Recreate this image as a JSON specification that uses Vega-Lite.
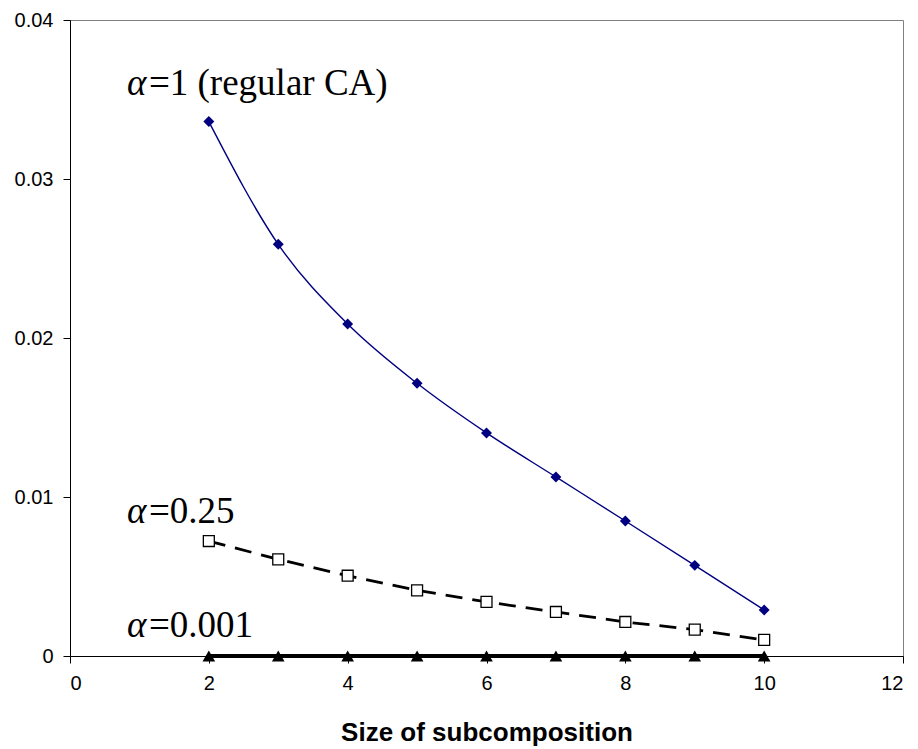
{
  "$schema": "https://vega.github.io/schema/vega-lite/v6.json",
  "width": 833,
  "height": 636,
  "autosize": {"type": "none"},
  "padding": {"left": 70, "top": 20, "right": 15, "bottom": 93},
  "background": "white",
  "config": {
    "view": {"stroke": "#808080", "strokeWidth": 1},
    "axis": {"grid": false, "domainColor": "black", "tickColor": "black", "tickSize": 7, "zindex": 0}
  },
  "datasets": {
    "a1": [
      {"size": 2, "value": 0.03361},
      {"size": 3, "value": 0.02589},
      {"size": 4, "value": 0.02088},
      {"size": 5, "value": 0.01715},
      {"size": 6, "value": 0.01403},
      {"size": 7, "value": 0.01126},
      {"size": 8, "value": 0.00849},
      {"size": 9, "value": 0.00570},
      {"size": 10, "value": 0.00289}
    ],
    "a025": [
      {"size": 2, "value": 0.00723},
      {"size": 3, "value": 0.00608},
      {"size": 4, "value": 0.00505},
      {"size": 5, "value": 0.00413},
      {"size": 6, "value": 0.00340},
      {"size": 7, "value": 0.00277},
      {"size": 8, "value": 0.00214},
      {"size": 9, "value": 0.00166},
      {"size": 10, "value": 0.00101}
    ],
    "a0001": [
      {"size": 2, "value": 0.0},
      {"size": 3, "value": 0.0},
      {"size": 4, "value": 0.0},
      {"size": 5, "value": 0.0},
      {"size": 6, "value": 0.0},
      {"size": 7, "value": 0.0},
      {"size": 8, "value": 0.0},
      {"size": 9, "value": 0.0},
      {"size": 10, "value": 0.0}
    ],
    "labels": [
      {"x": 0.82, "y": 0.03528, "alpha": "α", "rest": "=1 (regular CA)"},
      {"x": 0.82, "y": 0.00838, "alpha": "α", "rest": "=0.25"},
      {"x": 0.82, "y": 0.00121, "alpha": "α", "rest": "=0.001"}
    ]
  },
  "encoding": {
    "x": {
      "field": "size", "type": "quantitative",
      "scale": {"domain": [0, 12], "nice": false, "zero": true},
      "axis": {"values": [0, 2, 4, 6, 8, 10, 12], "title": "Size of subcomposition", "titleFont": "Liberation Sans", "titleFontSize": 26, "titleFontWeight": "bold", "titleColor": "black", "titlePadding": 26, "labelFont": "Liberation Sans", "labelFontSize": 20, "labelColor": "black", "labelPadding": 10}
    },
    "y": {
      "field": "value", "type": "quantitative",
      "scale": {"domain": [0, 0.04], "nice": false},
      "axis": {"values": [0, 0.01, 0.02, 0.03, 0.04], "title": null, "labelExpr": "datum.value == 0 ? '0' : format(datum.value, '.2f')", "labelFont": "Liberation Sans", "labelFontSize": 20, "labelColor": "black", "labelPadding": 10}
    }
  },
  "layer": [
    {
      "data": {"name": "a1"},
      "mark": {"type": "line", "color": "#000080", "strokeWidth": 1.4, "interpolate": "monotone"}
    },
    {
      "data": {"name": "a1"},
      "mark": {"type": "point", "shape": "diamond", "filled": true, "color": "#000080", "size": 120, "opacity": 1}
    },
    {
      "data": {"name": "a025"},
      "mark": {"type": "line", "color": "black", "strokeWidth": 2.8, "strokeDash": [17, 10]}
    },
    {
      "data": {"name": "a025"},
      "mark": {"type": "point", "shape": "square", "filled": true, "fill": "white", "stroke": "black", "strokeWidth": 1.3, "size": 120, "opacity": 1}
    },
    {
      "data": {"name": "a0001"},
      "mark": {"type": "line", "color": "black", "strokeWidth": 4}
    },
    {
      "data": {"name": "a0001"},
      "mark": {"type": "point", "shape": "triangle-up", "filled": true, "color": "black", "size": 160, "opacity": 1}
    },
    {
      "data": {"name": "labels"},
      "mark": {"type": "text", "align": "left", "baseline": "alphabetic", "font": "Liberation Serif", "fontSize": 37, "fontStyle": "italic", "color": "black"},
      "encoding": {
        "x": {"field": "x", "type": "quantitative"},
        "y": {"field": "y", "type": "quantitative"},
        "text": {"field": "alpha"}
      }
    },
    {
      "data": {"name": "labels"},
      "mark": {"type": "text", "align": "left", "baseline": "alphabetic", "font": "Liberation Serif", "fontSize": 37, "dx": 22, "color": "black"},
      "encoding": {
        "x": {"field": "x", "type": "quantitative"},
        "y": {"field": "y", "type": "quantitative"},
        "text": {"field": "rest"}
      }
    }
  ]
}
